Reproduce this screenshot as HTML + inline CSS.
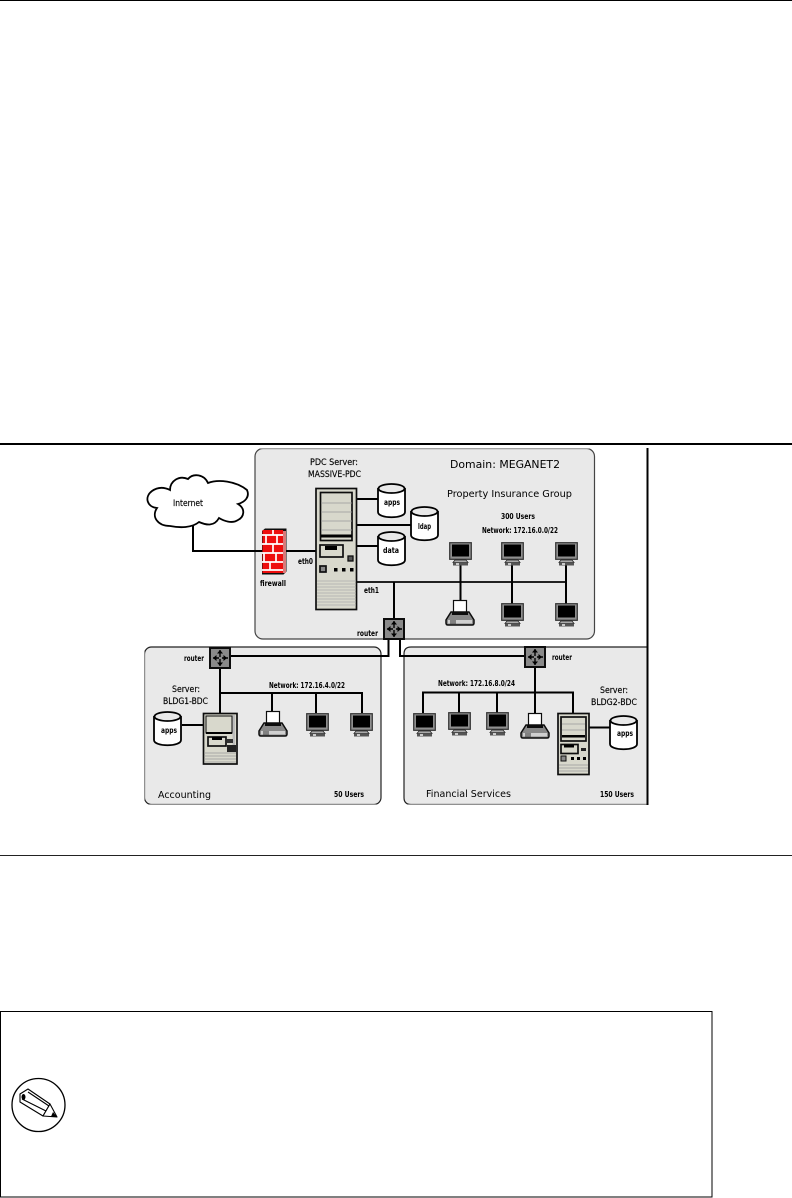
<!DOCTYPE html>
<html><head><meta charset="utf-8"><style>
html,body{margin:0;padding:0;background:#fff;width:792px;height:1198px;overflow:hidden}
svg{display:block}
text{font-family:"DejaVu Sans","Liberation Sans",sans-serif;fill:#000}
.b{font-weight:bold;font-size:7.500px}
.m{font-size:8.500px;stroke:#000;stroke-width:.15px}
</style></head><body>
<svg width="792" height="1198" viewBox="0 0 792 1198" xmlns="http://www.w3.org/2000/svg">
<defs>
<filter id="soft" x="0" y="0" width="1" height="1"><feGaussianBlur stdDeviation="0.35"/></filter>
<g id="mon">
<rect x="0.700" y="0.700" width="21.600" height="16.600" fill="#8f8f8f" stroke="#333" stroke-width="1.200"/>
<rect x="3" y="2.500" width="17" height="12" fill="#000"/>
<path d="M6 18h11l2 2.500h-15z" fill="#aaa" stroke="#222" stroke-width=".8"/>
<path d="M4 20.500h15v3h-15z" fill="#555"/>
<rect x="7" y="21" width="3" height="2" fill="#ccc"/>
</g>
<g id="cyl">
<path d="M1 5V29C1 36 28 36 28 29V5" fill="#fff" stroke="#000" stroke-width="1.800"/>
<ellipse cx="14.500" cy="5.500" rx="13" ry="4.500" fill="#e9e9e9" stroke="#000" stroke-width="1.800"/>
</g>
<g id="prn">
<rect x="8.500" y="0.500" width="13" height="13" fill="#fff" stroke="#111" stroke-width="1.200"/>
<path d="M6 12h18l5 8v3q0 2-2 2H3q-2 0-2-2v-3z" fill="#888" stroke="#111" stroke-width="1.500"/>
<rect x="7" y="12" width="16" height="3" fill="#111"/>
<rect x="3" y="20" width="24" height="3.500" fill="#d0d0d0"/>
<path d="M6 20v4M8 20v4M10 20v4" stroke="#333"/>
</g>
<g id="rt">
<rect x="1" y="1" width="20" height="20" fill="#8a8a8a" stroke="#111" stroke-width="2"/>
<path d="M11 3v7M11 12v7M4 11h6M13 11h6" stroke="#000" stroke-width="1.400"/>
<path d="M11 3l-3 3.500h6zM11 19l-3-3.500h6zM4 11l3.500-3v6zM18 11l-3.500-3v6z" fill="#000"/>
</g>
</defs>

<rect width="792" height="1" fill="#000"/>
<rect y="443" width="792" height="2" fill="#000"/>
<rect y="855" width="792" height="1" fill="#222"/>

<g filter="url(#soft)">
<rect x="255" y="448.500" width="339.500" height="190.500" rx="8" fill="#e9e9e9" stroke="#444" stroke-width="1.200"/>
<rect x="144.500" y="647" width="236.500" height="157.500" rx="7" fill="#e9e9e9" stroke="#222" stroke-width="1.200"/>
<path d="M648 804.500H411q-7 0-7-7V654q0-7 7-7H648z" fill="#e9e9e9" stroke="#222" stroke-width="1.200"/>

<g fill="none" stroke="#000" stroke-width="2">
<path d="M193 526V551H262M286 551H316"/>
<path d="M357 499H378M357 525H412M357 546H378"/>
<path d="M357 582H567" stroke="#222"/>
<path d="M394 582V619"/>
<path d="M460.500 564V601M512 564V604M566 564V604"/>
<path d="M388.500 639V656H231M400 639V656H525"/>
<path d="M220 668V713M220 693H362V713M272 693V712M316 693V713"/>
<path d="M182 725H203"/>
<path d="M535 667V713M423 713V692.500H573V713M459 692.500V713M497 692.500V713"/>
<path d="M589 727.500H610"/>
</g>

<path d="M170 526C158 526 151 517 157 508C147 507 144 497 152 491C159 486 166 488 170 490C170 481 179 475 188 479C193 473 204 474 208 483C218 479 236 481 247 490C250 497 245 502 238 504C246 509 244 517 238 520C232 524 224 521 219 518C214 527 206 525 199 522C192 528 180 528 170 526Z" fill="#fff" stroke="#000" stroke-width="1.800"/>
<text x="173" y="506" class="m" textLength="30" lengthAdjust="spacingAndGlyphs">Internet</text>

<path d="M262 531l3-2.500h21.500v43l-3 3h-21.500z" fill="#111"/>
<rect x="262.500" y="530" width="20.500" height="43" fill="#ee1111"/>
<g stroke="#fff" stroke-width="1.700" fill="none">
<path d="M262 535H283M262 544H283M262 553H283M262 562H283M262 570H283"/>
<path d="M273 530V535M266 535V544M277 535V544M273 544V553M264 553V562M276 553V562M270 562V570"/>
</g>
<rect x="283" y="531" width="3" height="42" fill="#d97a7a"/>
<text x="260" y="586" class="b" textLength="26" lengthAdjust="spacingAndGlyphs">firewall</text>

<rect x="316" y="488.500" width="40.500" height="121" fill="#d8d8cc" stroke="#111" stroke-width="1.700"/>
<rect x="320.500" y="492.500" width="31.500" height="48" fill="#d8d8cc" stroke="#111" stroke-width="1.700"/>
<path d="M321 503H352M321 512H352M321 521H352M321 530H352" stroke="#999" stroke-width=".8"/>
<rect x="321" y="534.500" width="31" height="3" fill="#000"/>
<rect x="320" y="545" width="23" height="12" fill="#d8d8cc" stroke="#111" stroke-width="1.700"/>
<rect x="325" y="546" width="12" height="4" fill="#000"/>
<rect x="348" y="556" width="5" height="5" fill="#555" stroke="#111" stroke-width="1.300"/>
<rect x="320" y="566" width="6" height="6" fill="#888" stroke="#111" stroke-width="1.700"/>
<rect x="334" y="568" width="3.500" height="3.500" fill="#000"/>
<rect x="342" y="568" width="3.500" height="3.500" fill="#000"/>
<rect x="350" y="568" width="3.500" height="3.500" fill="#000"/>
<path d="M317 581H356M317 584H356M317 587H356M317 590H356M317 593H356M317 596H356M317 599H356M317 602H356M317 605H356" stroke="#aaa" stroke-width=".8"/>

<use href="#cyl" x="377" y="483"/>
<use href="#cyl" x="410" y="506"/>
<use href="#cyl" x="377" y="531"/>
<text x="384" y="505" class="b" textLength="16" lengthAdjust="spacingAndGlyphs">apps</text>
<text x="418" y="529" class="b" textLength="13" lengthAdjust="spacingAndGlyphs">ldap</text>
<text x="383" y="553" class="b" textLength="16" lengthAdjust="spacingAndGlyphs">data</text>

<use href="#mon" x="449" y="542"/>
<use href="#mon" x="501" y="542"/>
<use href="#mon" x="555" y="542"/>
<use href="#mon" x="501" y="603"/>
<use href="#mon" x="555" y="603"/>
<use href="#prn" x="445" y="600"/>
<use href="#rt" x="383" y="618"/>

<text x="310" y="465" class="m" textLength="48" lengthAdjust="spacingAndGlyphs">PDC Server:</text>
<text x="308" y="477" class="m" textLength="53" lengthAdjust="spacingAndGlyphs">MASSIVE-PDC</text>
<text x="450" y="468" font-size="10.500" textLength="110" lengthAdjust="spacingAndGlyphs">Domain: MEGANET2</text>
<text x="447" y="497" font-size="10" textLength="125" lengthAdjust="spacingAndGlyphs">Property Insurance Group</text>
<text x="501" y="519" class="b" textLength="34" lengthAdjust="spacingAndGlyphs">300 Users</text>
<text x="482" y="533" class="b" textLength="76" lengthAdjust="spacingAndGlyphs">Network: 172.16.0.0/22</text>
<text x="298" y="564" class="b" textLength="15" lengthAdjust="spacingAndGlyphs">eth0</text>
<text x="364" y="593" class="b" textLength="15" lengthAdjust="spacingAndGlyphs">eth1</text>
<text x="357" y="636" class="b" textLength="21" lengthAdjust="spacingAndGlyphs">router</text>

<use href="#rt" x="209" y="647"/>
<text x="184" y="661" class="b" textLength="20" lengthAdjust="spacingAndGlyphs">router</text>
<text x="172" y="692" class="m" textLength="28" lengthAdjust="spacingAndGlyphs">Server:</text>
<text x="163" y="704" class="m" textLength="45" lengthAdjust="spacingAndGlyphs">BLDG1-BDC</text>
<text x="269" y="688" class="b" textLength="76" lengthAdjust="spacingAndGlyphs">Network: 172.16.4.0/22</text>
<use href="#cyl" x="153" y="711"/>
<text x="161" y="733" class="b" textLength="16" lengthAdjust="spacingAndGlyphs">apps</text>
<rect x="203.500" y="713.500" width="33.500" height="50.500" fill="#d8d8cc" stroke="#111" stroke-width="1.700"/>
<rect x="206" y="716" width="26" height="17" fill="#d8d8cc" stroke="#111" stroke-width="1"/>
<path d="M206 733H232" stroke="#000" stroke-width="2"/>
<rect x="232.500" y="715" width="2.500" height="30" fill="#bbb"/>
<rect x="208" y="737" width="18" height="9" fill="#d8d8cc" stroke="#111" stroke-width="1.700"/>
<rect x="227" y="739" width="6" height="4" fill="#333"/>
<rect x="227" y="745" width="9" height="7" fill="#222"/>
<rect x="212" y="737" width="10" height="3" fill="#000"/>
<path d="M204 753H236M204 756H236M204 759H236M204 762H236" stroke="#999" stroke-width=".8"/>
<use href="#prn" x="258" y="711"/>
<use href="#mon" x="306" y="713"/>
<use href="#mon" x="350" y="713"/>
<text x="158" y="798" font-size="10" textLength="53" lengthAdjust="spacingAndGlyphs">Accounting</text>
<text x="334" y="797" class="b" textLength="30" lengthAdjust="spacingAndGlyphs">50 Users</text>

<use href="#rt" x="524" y="646"/>
<text x="552" y="660" class="b" textLength="20" lengthAdjust="spacingAndGlyphs">router</text>
<text x="438" y="686" class="b" textLength="77" lengthAdjust="spacingAndGlyphs">Network: 172.16.8.0/24</text>
<text x="600" y="693" class="m" textLength="28" lengthAdjust="spacingAndGlyphs">Server:</text>
<text x="591" y="705" class="m" textLength="46" lengthAdjust="spacingAndGlyphs">BLDG2-BDC</text>
<use href="#mon" x="413" y="713"/>
<use href="#mon" x="448" y="712"/>
<use href="#mon" x="486" y="712"/>
<use href="#prn" x="520" y="713"/>
<rect x="558" y="713.500" width="31" height="61" fill="#d8d8cc" stroke="#111" stroke-width="1.700"/>
<rect x="561" y="717" width="25" height="24" fill="#d8d8cc" stroke="#111" stroke-width="1.700"/>
<path d="M562 724H585M562 730H585" stroke="#999" stroke-width=".8"/>
<rect x="562" y="735" width="23" height="2.500" fill="#000"/>
<rect x="561" y="744.500" width="17" height="9" fill="#d8d8cc" stroke="#111" stroke-width="1.700"/>
<rect x="564" y="745" width="10" height="2.500" fill="#000"/>
<rect x="581" y="748" width="5" height="3" fill="#222"/>
<rect x="561" y="756" width="5" height="5" fill="#888" stroke="#111"/>
<rect x="571" y="757" width="3" height="3" fill="#000"/>
<rect x="577" y="757" width="3" height="3" fill="#000"/>
<rect x="583" y="757" width="3" height="3" fill="#000"/>
<path d="M559 765H588M559 768H588M559 771H588" stroke="#999" stroke-width=".8"/>
<use href="#cyl" x="609" y="715"/>
<text x="617" y="736" class="b" textLength="16" lengthAdjust="spacingAndGlyphs">apps</text>
<text x="426" y="797" font-size="10" textLength="85" lengthAdjust="spacingAndGlyphs">Financial Services</text>
<text x="600" y="797" class="b" textLength="34" lengthAdjust="spacingAndGlyphs">150 Users</text>
</g>
<rect x="646.500" y="448" width="2" height="357" fill="#000"/>

<rect x="0.500" y="1011.500" width="711.500" height="185.500" fill="#fff" stroke="#000" stroke-width="1"/>
<circle cx="38.500" cy="1105" r="26.500" fill="#fff" stroke="#000" stroke-width="1.300"/>
<g fill="#fff" stroke="#000" stroke-width="1.100" stroke-linejoin="round">
<path d="M20 1094L28 1089L50 1104L43 1116L20 1102Z"/>
<path d="M22 1099L46 1111M28 1092L49 1106" fill="none"/>
<path d="M50 1104L57 1117L43 1116Z"/>
</g>
<ellipse cx="23.500" cy="1097" rx="2" ry="3" fill="#000"/>
<path d="M53 1112L57 1117L51 1116.500Z" fill="#000"/>
</svg>
</body></html>
